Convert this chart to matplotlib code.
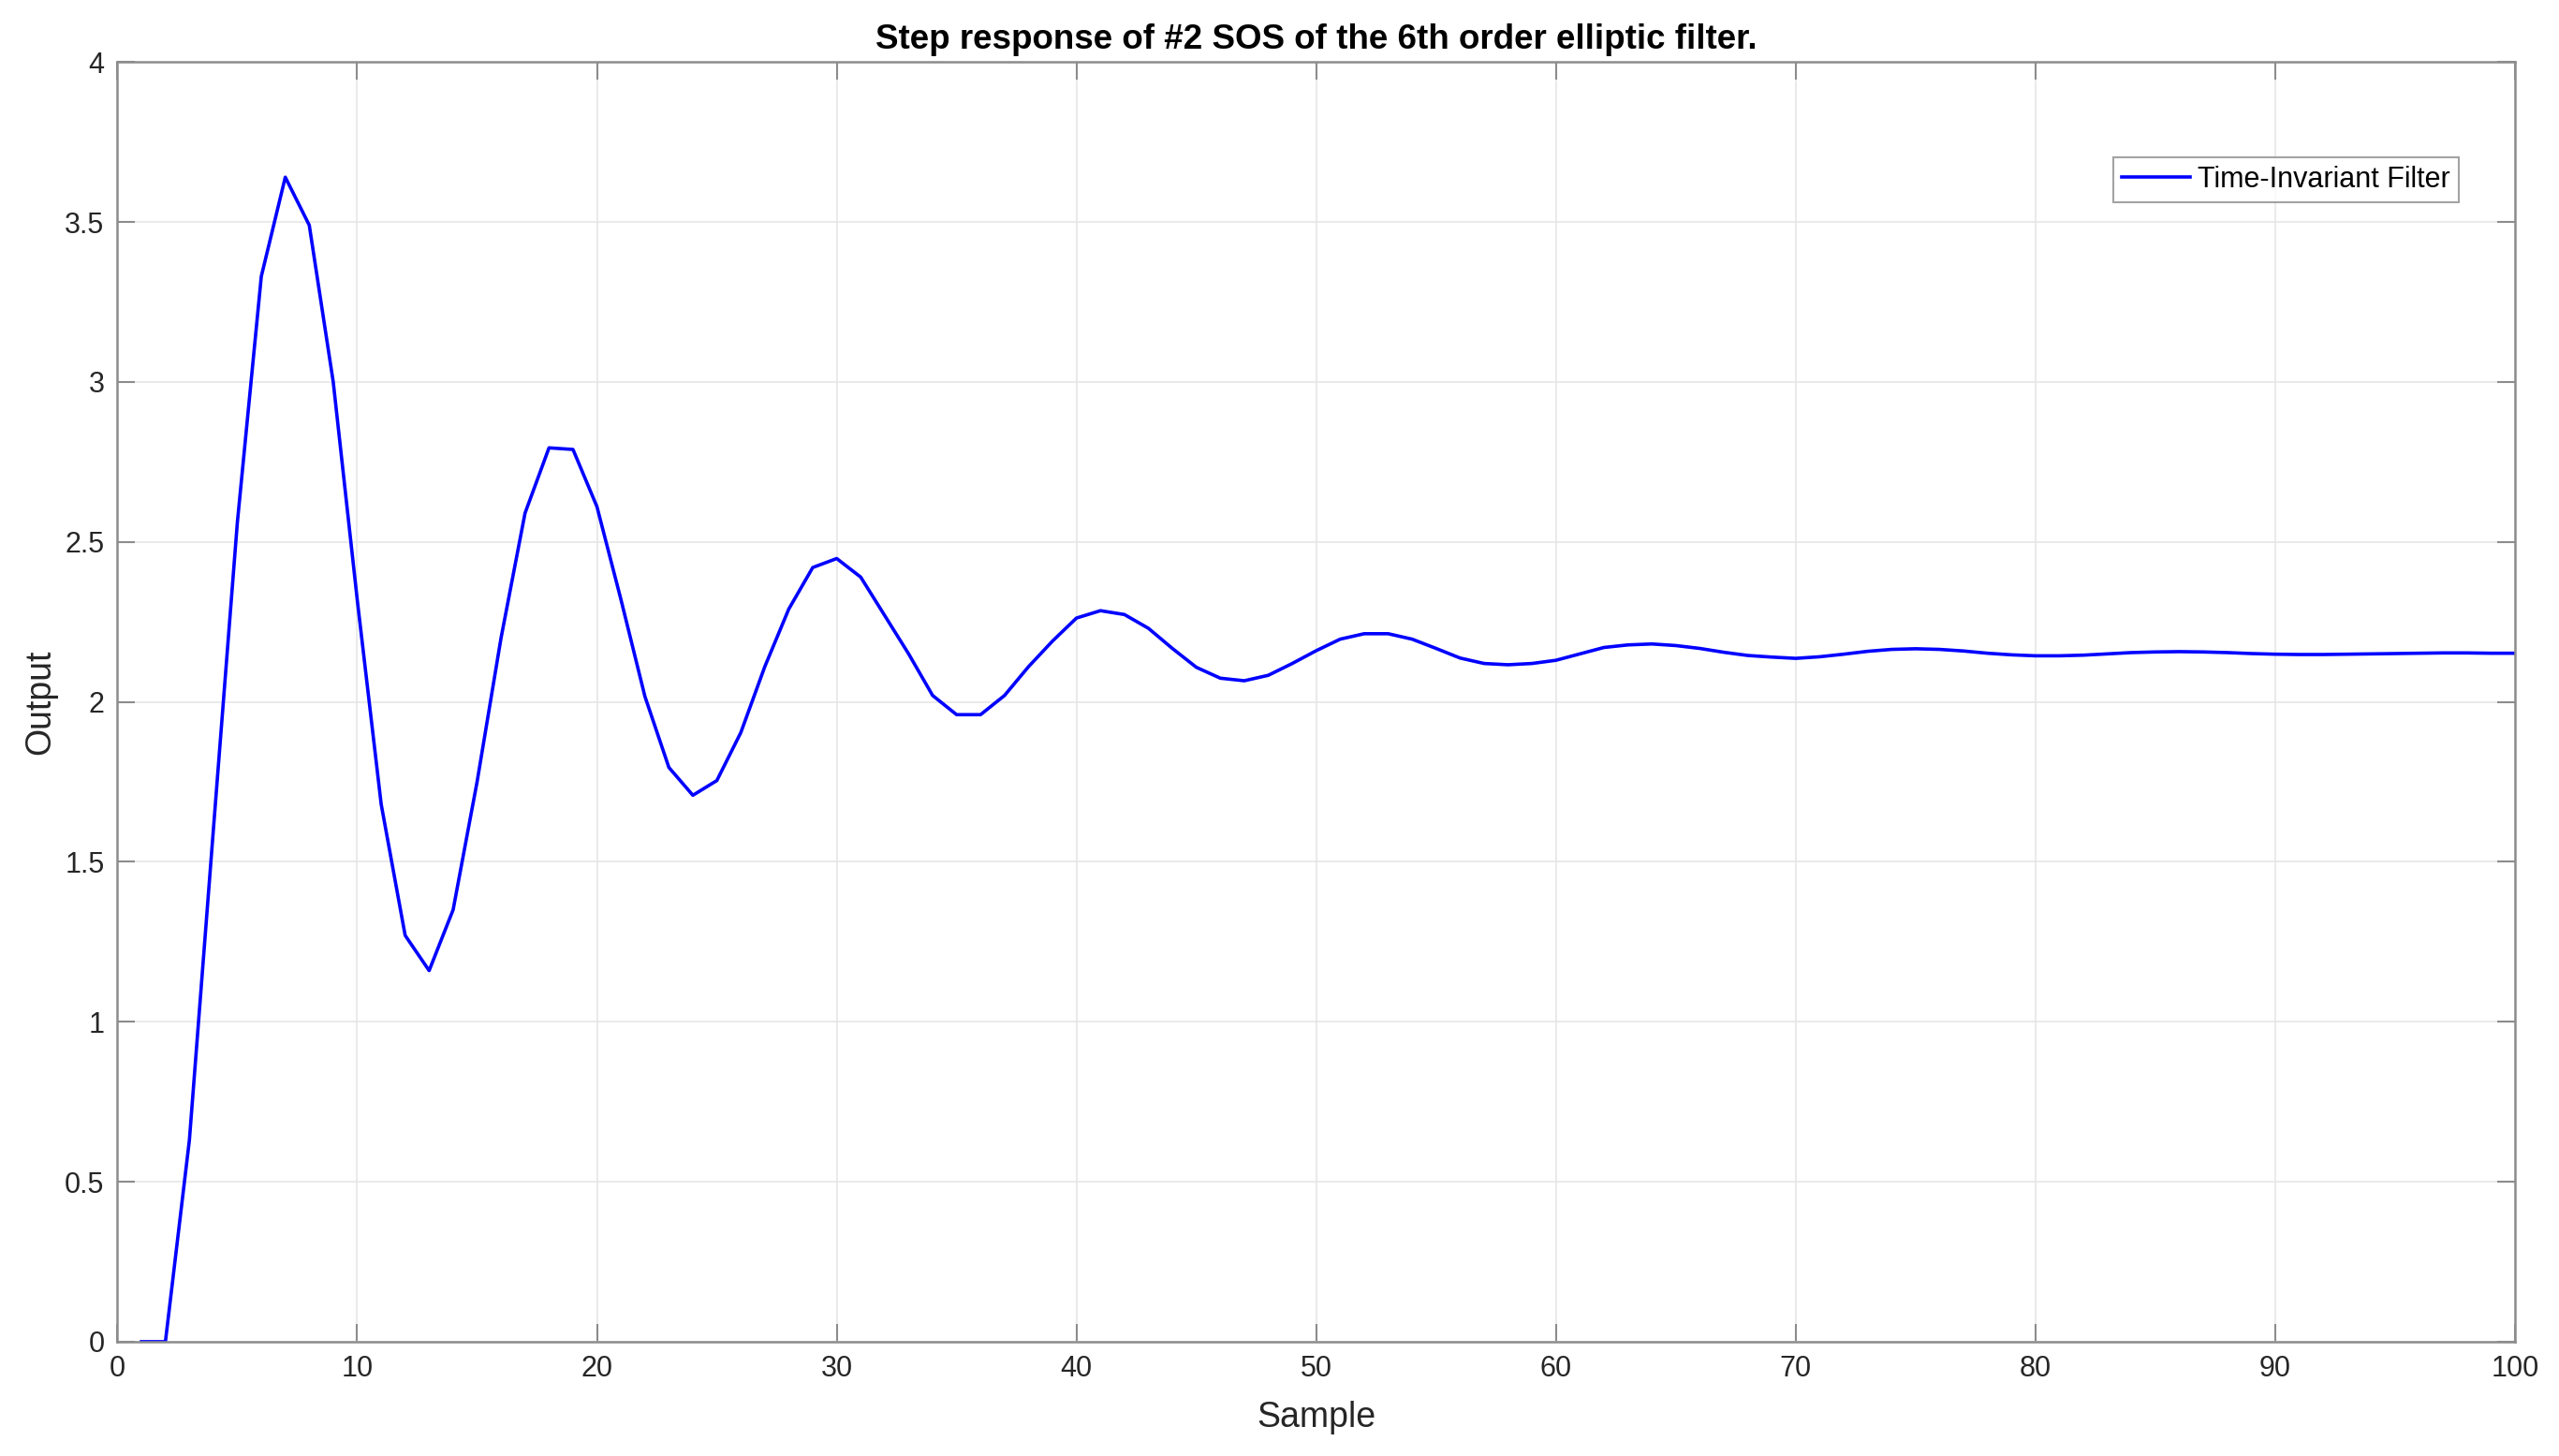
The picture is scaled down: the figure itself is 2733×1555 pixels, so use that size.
import numpy as np
import matplotlib
matplotlib.use('Agg')
import matplotlib.pyplot as plt

# step response samples
sample = np.arange(1, 101)
output = [0.0, 0.0, 0.63, 1.60, 2.56, 3.33, 3.64, 3.49, 3.00, 2.32,
          1.68, 1.27, 1.16, 1.35, 1.75, 2.20, 2.59, 2.794, 2.789, 2.61,
          2.32, 2.017, 1.795, 1.708, 1.754, 1.904, 2.11, 2.29, 2.42, 2.448,
          2.39, 2.27, 2.15, 2.02, 1.96, 1.96, 2.02, 2.11, 2.19, 2.262,
          2.285, 2.273, 2.23, 2.167, 2.108, 2.074, 2.066, 2.083, 2.12, 2.16,
          2.196, 2.213, 2.213, 2.196, 2.167, 2.137, 2.12, 2.116, 2.12, 2.13,
          2.15, 2.17, 2.178, 2.181, 2.176, 2.167, 2.155, 2.145, 2.14, 2.136,
          2.141, 2.149, 2.158, 2.164, 2.166, 2.164, 2.159, 2.152, 2.147, 2.144,
          2.144, 2.146, 2.15, 2.154, 2.156, 2.157, 2.156, 2.154, 2.151, 2.149,
          2.148, 2.148, 2.149, 2.150, 2.151, 2.152, 2.153, 2.153, 2.152, 2.152]

x_ticks = np.arange(0, 101, 10)
y_ticks = np.arange(0, 4.01, 0.5)
y_tick_labels = ['0', '0.5', '1', '1.5', '2', '2.5', '3', '3.5', '4']

plt.rcParams['font.family'] = ['Liberation Sans', 'DejaVu Sans']

fig = plt.figure(figsize=(27.33, 15.55), dpi=100)
ax = fig.add_axes([0.0459, 0.0785, 0.9369, 0.8789])

ax.plot(sample, output, color='#0000ff', linewidth=2.6, label='Time-Invariant Filter')

ax.set_xlim(0, 100)
ax.set_ylim(0, 4)
ax.set_xticks(x_ticks)
ax.set_yticks(y_ticks)
ax.set_yticklabels(y_tick_labels)
ax.grid(True, color='#e6e6e6', linewidth=1.2)
ax.set_axisbelow(True)

for s in ax.spines.values():
    s.set_color('#8c8c8c')
    s.set_linewidth(1.8)
ax.tick_params(direction='in', length=14, width=1.5, color='#8c8c8c',
               top=True, right=True, labelsize=22, labelcolor='#262626', pad=10)

ax.set_xlabel('Sample', fontsize=27, color='#262626', labelpad=14)
ax.set_ylabel('Output', fontsize=27, color='#262626', labelpad=6)
ax.set_title('Step response of #2 SOS of the 6th order elliptic filter.',
             fontsize=26.5, fontweight='bold', color='black', pad=10)

leg = ax.legend(loc='upper right', bbox_to_anchor=(0.9825, 0.937), fontsize=22,
                frameon=True, fancybox=False, edgecolor='#8c8c8c',
                handlelength=2.4, handletextpad=0.25, borderpad=0.3)
leg.get_frame().set_linewidth(1.5)

fig.savefig('out.png', dpi=100, facecolor='white')
